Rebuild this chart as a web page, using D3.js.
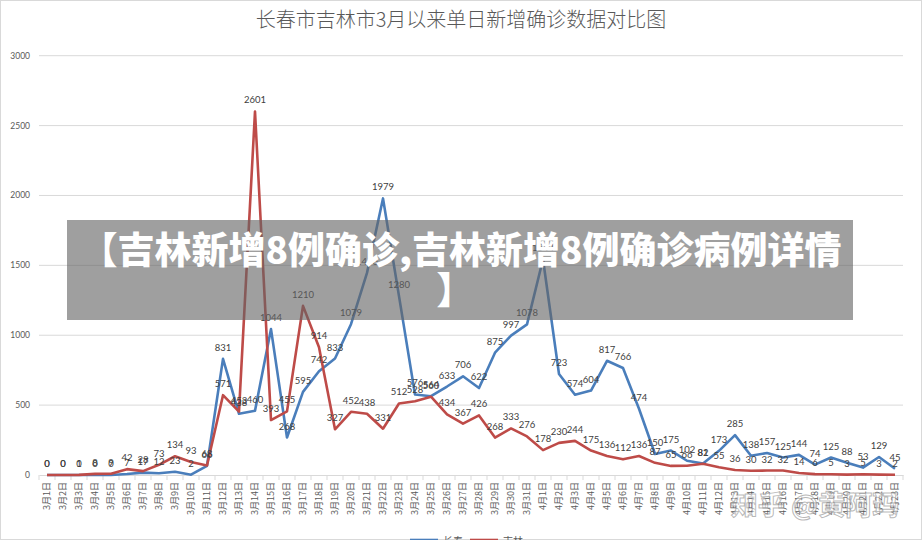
<!DOCTYPE html>
<html><head><meta charset="utf-8">
<script src="https://cdn.jsdelivr.net/npm/d3@7"></script>
<style>
body{margin:0;background:#fff;}
svg{display:block;}
</style></head>
<body><svg id="c" width="922" height="540"></svg>
<script>
const dates = [];
for (let d = 1; d <= 31; d++) dates.push("3月" + d + "日");
for (let d = 1; d <= 23; d++) dates.push("4月" + d + "日");

const changchun = [0,0,0,0,0,7,17,12,23,2,66,
  831,438,460,1044,268,595,742,833,1079,1446,1979,1280,576,564,633,706,622,875,997,1078,
  1544,723,574,604,817,766,474,150,175,102,82,173,285,138,157,125,144,74,125,88,53,129,45];
const jilin = [0,0,1,8,9,42,28,73,134,93,68,
  571,453,2601,393,455,1210,914,327,452,438,331,512,528,560,434,367,426,268,333,276,
  178,230,244,175,136,112,136,87,65,66,81,55,36,30,32,32,14,6,5,3,5,3,2];
const yTicks = [0,500,1000,1500,2000,2500,3000];
const seriesNames = ["长春","吉林"];
const title = "长春市吉林市3月以来单日新增确诊数据对比图";
const bannerLines = ["【吉林新增8例确诊,吉林新增8例确诊病例详情","】"];

const svg = d3.select("#c");
const colors = ["#4A7EBB","#BE4B48"];
svg.append("rect").attr("x",0.5).attr("y",0.5).attr("width",921).attr("height",539)
  .attr("fill","#fff").attr("stroke","#d9d9d9");

const x = d3.scaleBand().domain(dates).range([39, 903]);
const y = d3.scaleLinear().domain([0,3000]).range([475, 55.7]);
const cx = d => x(d) + x.bandwidth()/2;

// gridlines
svg.append("g").selectAll("line").data(yTicks.filter(t=>t>0)).join("line")
  .attr("x1",39).attr("x2",903).attr("y1",d=>y(d)).attr("y2",d=>y(d))
  .attr("stroke","#d9d9d9").attr("stroke-width",1);
// y labels
svg.append("g").selectAll("text").data(yTicks).join("text")
  .attr("x",30).attr("y",d=>y(d)+3).attr("text-anchor","end")
  .attr("font-family","Lato, 'Liberation Sans', sans-serif").attr("font-size",8.5)
  .attr("fill","#595959").text(d=>d);

// x axis
const xAxis = d3.axisBottom(x).tickSize(0).tickFormat("");
const gx = svg.append("g").attr("transform","translate(0,475)").call(xAxis);
gx.select(".domain").attr("stroke","#d9d9d9").attr("stroke-width",1);
const bounds = dates.map(d=>x(d)).concat([903]);
svg.append("g").selectAll("line").data(bounds).join("line")
  .attr("x1",d=>d).attr("x2",d=>d).attr("y1",475).attr("y2",480)
  .attr("stroke","#d9d9d9");
svg.append("g").selectAll("text").data(dates).join("text")
  .attr("transform",d=>`translate(${cx(d)+3},482) rotate(-90)`)
  .attr("text-anchor","end")
  .attr("font-family","'Noto Sans CJK SC', sans-serif").attr("font-size",9)
  .attr("fill","#595959").text(d=>d);

// lines
const line = d3.line().x((v,i)=>cx(dates[i])).y(v=>y(v));
[changchun, jilin].forEach((s,k)=>{
  svg.append("path").datum(s).attr("d",line).attr("fill","none")
    .attr("stroke",colors[k]).attr("stroke-width",2.6).attr("stroke-linejoin","round");
});
// data labels
[changchun, jilin].forEach((s,k)=>{
  svg.append("g").selectAll("text").data(s).join("text")
    .attr("x",(v,i)=>cx(dates[i])).attr("y",v=>y(v)-8)
    .attr("text-anchor","middle")
    .attr("font-family","Lato, 'Liberation Sans', sans-serif").attr("font-size",9.5)
    .attr("fill","#404040").text(v=>v);
});

// title
svg.append("text").attr("x",461).attr("y",27).attr("text-anchor","middle")
  .attr("font-family","'Noto Sans CJK SC', sans-serif").attr("font-weight",300)
  .attr("font-size",20).attr("fill","#595959").text(title);

// legend
const lg = svg.append("g");
seriesNames.forEach((n,k)=>{
  const lx = 410 + k*60;
  lg.append("line").attr("x1",lx).attr("x2",lx+28).attr("y1",540).attr("y2",540)
    .attr("stroke",colors[k]).attr("stroke-width",2.6);
  lg.append("text").attr("x",lx+33).attr("y",545).attr("font-size",10)
    .attr("font-family","'Noto Sans CJK SC', sans-serif").attr("fill","#595959").text(n);
});

// banner
svg.append("rect").attr("x",67).attr("y",220).attr("width",786).attr("height",100)
  .attr("fill","rgb(100,100,100)").attr("fill-opacity",0.62);
svg.append("text").attr("x",461).attr("y",264).attr("text-anchor","middle")
  .attr("font-family","'Noto Sans CJK SC', sans-serif").attr("font-weight",900)
  .attr("font-size",37).attr("fill","#fff").text(bannerLines[0]);
svg.append("text").attr("x",455).attr("y",304).attr("text-anchor","middle")
  .attr("font-family","'Noto Sans CJK SC', sans-serif").attr("font-weight",900)
  .attr("font-size",37).attr("fill","#fff").text(bannerLines[1]);

// watermark
svg.append("text").attr("x",815).attr("y",515).attr("text-anchor","middle")
  .attr("font-family","'Noto Sans CJK SC', sans-serif").attr("font-weight",700)
  .attr("font-size",27).attr("fill","#fff").attr("fill-opacity",0.55)
  .attr("stroke","#888").attr("stroke-width",1).attr("stroke-opacity",0.6)
  .text("知乎 @黄阿玛");
</script></body></html>
